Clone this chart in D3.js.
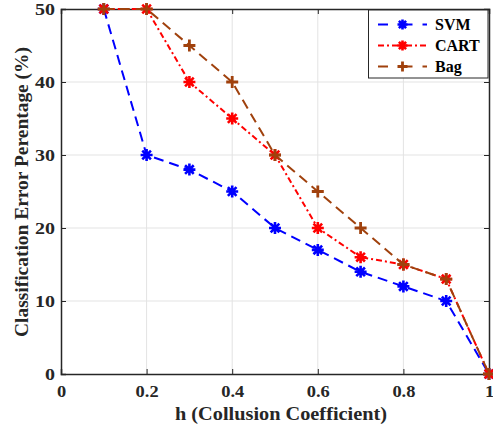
<!DOCTYPE html>
<html><head><meta charset="utf-8">
<script src="https://cdn.jsdelivr.net/npm/d3@7"></script>
<style>body{margin:0;background:#fff} svg text{font-family:"Liberation Serif","Times New Roman",Times,serif;font-weight:bold;}</style>
</head><body>
<svg id="c" width="493" height="427"></svg>
<script>
const xs = [0.1,0.2,0.3,0.4,0.5,0.6,0.7,0.8,0.9,1.0];
const svm = [50,30,28,25,20,17,14,12,10,0];
const cart = [50,50,40,35,30,20,16,15,13,0];
const bag = [50,50,45,40,30,25,20,15,13,0];
const xTicks = [0,0.2,0.4,0.6,0.8,1];
const yTicks = [0,10,20,30,40,50];
const seriesNames = ["SVM","CART","Bag"];

const svg = d3.select("#c");
const L=61, R=489, T=9, B=374;
const x = d3.scaleLinear().domain([0,1]).range([L,R]);
const y = d3.scaleLinear().domain([0,50]).range([B,T]);

// grid
svg.append("g").selectAll("line").data(xTicks.slice(1,-1)).join("line")
  .attr("x1",d=>x(d)).attr("x2",d=>x(d)).attr("y1",T).attr("y2",B)
  .attr("stroke","#e3e3e3").attr("stroke-width",1);
svg.append("g").selectAll("line").data(yTicks.slice(1,-1)).join("line")
  .attr("y1",d=>y(d)).attr("y2",d=>y(d)).attr("x1",L).attr("x2",R)
  .attr("stroke","#e3e3e3").attr("stroke-width",1);

// axes
const ax = d3.axisBottom(x).tickValues(xTicks).tickSize(-5).tickPadding(12).tickFormat(d=>d===0||d===1?String(d):d3.format(".1f")(d));
const ay = d3.axisLeft(y).tickValues(yTicks).tickSize(-5).tickPadding(6);
const gx = svg.append("g").attr("transform",`translate(0,${B})`).call(ax);
const gy = svg.append("g").attr("transform",`translate(${L},0)`).call(ay);
const gx2 = svg.append("g").attr("transform",`translate(0,${T})`).call(d3.axisTop(x).tickValues(xTicks).tickSize(-5).tickFormat(""));
const gy2 = svg.append("g").attr("transform",`translate(${R},0)`).call(d3.axisRight(y).tickValues(yTicks).tickSize(-5).tickFormat(""));
[gx,gy,gx2,gy2].forEach(g=>{
  g.attr("font-family",null).attr("font-size",null);
  g.select(".domain").attr("stroke","#262626").attr("stroke-width",1.5);
  g.selectAll(".tick line").attr("stroke","#262626").attr("stroke-width",1);
  g.selectAll("text").style("font-size","16px").attr("fill","#262626");
});
gx.selectAll(".tick text").attr("transform","scale(1.15,1)");
gy.selectAll(".tick text").attr("x",0).attr("transform","translate(-6,0) scale(1.25,1)");

const series = [
  {name:seriesNames[0], vals:svm, color:"#0000ff", dash:"10,6", marker:"ast"},
  {name:seriesNames[1], vals:cart, color:"#ff0000", dash:"6,3,2,3", marker:"ast"},
  {name:seriesNames[2], vals:bag, color:"#a0410d", dash:"10,6", marker:"plus"}
];
const line = d3.line().x(d=>x(d[0])).y(d=>y(d[1]));
function drawMarker(g, cx, cy, type, color, s){
  const p = d3.path();
  p.moveTo(cx-s,cy); p.lineTo(cx+s,cy);
  p.moveTo(cx,cy-s); p.lineTo(cx,cy+s);
  if(type==="ast"){
    const k=s*0.72;
    p.moveTo(cx-k,cy-k); p.lineTo(cx+k,cy+k);
    p.moveTo(cx-k,cy+k); p.lineTo(cx+k,cy-k);
  }
  g.append("path").attr("d",p.toString()).attr("stroke",color).attr("stroke-width",type==="ast"?2.6:2.8).attr("fill","none");
}
series.forEach(s=>{
  const pts = xs.map((v,i)=>[v,s.vals[i]]);
  svg.append("path").datum(pts).attr("d",line).attr("fill","none")
    .attr("stroke",s.color).attr("stroke-width",2).attr("stroke-dasharray",s.dash);
  const g = svg.append("g");
  pts.forEach(p=>drawMarker(g,x(p[0]),y(p[1]),s.marker,s.color,6));
});

// legend
const lg = svg.append("g");
lg.append("rect").attr("x",368.5).attr("y",10).attr("width",119.5).attr("height",68)
  .attr("fill","#fff").attr("stroke","#262626").attr("stroke-width",1);
series.forEach((s,i)=>{
  const yy = 24.5+i*21;
  lg.append("line").attr("x1",378).attr("x2",427).attr("y1",yy).attr("y2",yy)
    .attr("stroke",s.color).attr("stroke-width",2).attr("stroke-dasharray",s.dash==="10,6"?"10,14.5,10":"6,3,2,3");
  drawMarker(lg,402.5,yy,s.marker,s.color,5);
  lg.append("text").attr("x",435).attr("y",yy+5.5).text(s.name)
    .style("font-size","16px").attr("fill","#000");
});

// axis labels
svg.append("text").attr("x",281).attr("y",420).attr("text-anchor","middle")
  .attr("textLength",212).attr("lengthAdjust","spacingAndGlyphs")
  .style("font-size","19px").attr("fill","#262626")
  .text("h (Collusion Coefficient)");
svg.append("text").attr("transform",`translate(28,192) rotate(-90)`).attr("text-anchor","middle")
  .attr("textLength",290).attr("lengthAdjust","spacingAndGlyphs")
  .style("font-size","19px").attr("fill","#262626")
  .text("Classification Error Perentage (%)");
</script>
</body></html>
